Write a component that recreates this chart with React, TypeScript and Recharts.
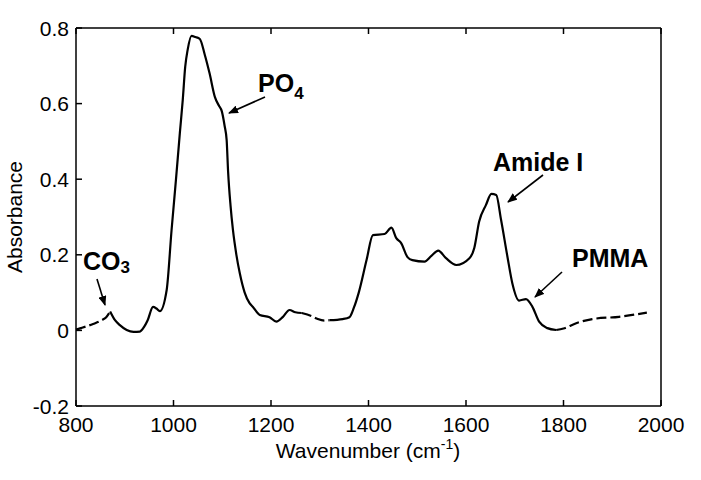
import React from "react";
import { LineChart, Line, XAxis, YAxis } from "recharts";

// wavenumber (cm-1) and absorbance
const wavenumbers = [
    800, 810, 835, 853, 862, 870, 880, 890, 904, 918, 931, 940, 947, 958, 965,
    972, 986, 996, 1005, 1013, 1019, 1024, 1029, 1037, 1045, 1054, 1064, 1074,
    1085, 1093, 1099, 1105, 1109, 1112, 1117, 1122, 1129, 1136, 1146, 1156,
    1163, 1177, 1197, 1211, 1224, 1238, 1250, 1263, 1283, 1296, 1310, 1320,
    1347, 1361, 1370, 1380, 1396, 1409, 1433, 1447, 1457, 1467, 1480, 1490,
    1515, 1529, 1543, 1559, 1580, 1607, 1617, 1627, 1641, 1652, 1662, 1672,
    1685, 1695, 1709, 1723, 1736, 1750, 1767, 1785, 1800, 1826, 1859, 1914,
    1971,
];
const absorbance = [
    0.002, 0.006, 0.017, 0.027, 0.035, 0.05, 0.027, 0.014, 0.001, -0.004,
    -0.003, 0.01, 0.027, 0.062, 0.058, 0.051, 0.107, 0.265, 0.398, 0.522, 0.61,
    0.697, 0.742, 0.779, 0.776, 0.771, 0.73, 0.68, 0.617, 0.595, 0.58, 0.54,
    0.504, 0.42, 0.33, 0.265, 0.2, 0.151, 0.1, 0.072, 0.062, 0.041, 0.035,
    0.023, 0.035, 0.054, 0.048, 0.046, 0.038, 0.03, 0.026, 0.027, 0.03, 0.035,
    0.06, 0.1, 0.186, 0.252, 0.255, 0.272, 0.244, 0.231, 0.194, 0.186, 0.182,
    0.197, 0.211, 0.191, 0.173, 0.191, 0.218, 0.288, 0.332, 0.361, 0.358,
    0.292, 0.195, 0.125, 0.079, 0.083, 0.063, 0.023, 0.006, 0.001, 0.005,
    0.019, 0.03, 0.036, 0.047,
];
// stretches of the trace that are broken up in the original
const dashedRanges = [
    [800, 870],
    [1263, 1320],
    [1785, 1971],
];
const xTicks = [800, 1000, 1200, 1400, 1600, 1800, 2000];
const yTicks = [-0.2, 0, 0.2, 0.4, 0.6, 0.8];

const inRange = (w: number, open: boolean) =>
    dashedRanges.some(([a, b]) => (open ? w > a && w < b : w >= a && w <= b));

const rows = wavenumbers.map((wn, i) => ({
    wn,
    solid: inRange(wn, true) ? null : absorbance[i],
    dash: inRange(wn, false) ? absorbance[i] : null,
}));

const FONT = "'Liberation Sans', Arial, Helvetica, sans-serif";
const TICK = 6;

const BottomTick = (p: any) => (
    <g>
        <line x1={p.x} y1={p.y} x2={p.x} y2={p.y - TICK} stroke="#000" strokeWidth={1.5} />
        <text x={p.x} y={p.y + 26} textAnchor="middle" fontSize={21} fontFamily={FONT} fill="#000">
            {p.payload.value}
        </text>
    </g>
);

const TopTick = (p: any) => (
    <line x1={p.x} y1={p.y} x2={p.x} y2={p.y + TICK} stroke="#000" strokeWidth={1.5} />
);

const LeftTick = (p: any) => {
    const v = p.payload.value;
    return (
        <g>
            <line x1={p.x} y1={p.y} x2={p.x + TICK} y2={p.y} stroke="#000" strokeWidth={1.5} />
            <text x={p.x - 7} y={p.y} dy="0.36em" textAnchor="end" fontSize={21} fontFamily={FONT} fill="#000">
                {v === 0 ? "0" : v.toFixed(1)}
            </text>
        </g>
    );
};

const RightTick = (p: any) => (
    <line x1={p.x} y1={p.y} x2={p.x - TICK} y2={p.y} stroke="#000" strokeWidth={1.5} />
);

const Arrow = ({ x1, y1, x2, y2 }: { x1: number; y1: number; x2: number; y2: number }) => (
    <line x1={x1} y1={y1} x2={x2} y2={y2} stroke="#000" strokeWidth={1.6} markerEnd="url(#head)" />
);

const axisLine = { stroke: "#000", strokeWidth: 1.5 };

export default function App() {
    return (
        <div style={{ position: "absolute", left: 0, top: 0, width: 701, height: 480, background: "#fff" }}>
            <LineChart width={701} height={480} data={rows} margin={{ top: 0, right: 0, bottom: 0, left: 0 }}>
                <XAxis
                    xAxisId="b"
                    dataKey="wn"
                    type="number"
                    domain={[800, 2000]}
                    ticks={xTicks}
                    height={74}
                    tickSize={0}
                    tickMargin={0}
                    tickLine={false}
                    axisLine={axisLine}
                    tick={BottomTick}
                    interval={0}
                />
                <XAxis
                    xAxisId="t"
                    orientation="top"
                    dataKey="wn"
                    type="number"
                    domain={[800, 2000]}
                    ticks={xTicks}
                    height={28}
                    tickSize={0}
                    tickMargin={0}
                    tickLine={false}
                    axisLine={axisLine}
                    tick={TopTick}
                    interval={0}
                />
                <YAxis
                    yAxisId="l"
                    type="number"
                    domain={[-0.2, 0.8]}
                    ticks={yTicks}
                    width={76}
                    tickSize={0}
                    tickMargin={0}
                    tickLine={false}
                    axisLine={axisLine}
                    tick={LeftTick}
                    interval={0}
                />
                <YAxis
                    yAxisId="r"
                    orientation="right"
                    type="number"
                    domain={[-0.2, 0.8]}
                    ticks={yTicks}
                    width={40}
                    tickSize={0}
                    tickMargin={0}
                    tickLine={false}
                    axisLine={axisLine}
                    tick={RightTick}
                    interval={0}
                />
                <Line
                    xAxisId="b"
                    yAxisId="l"
                    type="monotoneX"
                    dataKey="solid"
                    stroke="#000"
                    strokeWidth={2.2}
                    dot={false}
                    activeDot={false}
                    isAnimationActive={false}
                />
                <Line
                    xAxisId="b"
                    yAxisId="l"
                    type="monotoneX"
                    dataKey="dash"
                    stroke="#000"
                    strokeWidth={2.2}
                    strokeDasharray="10 4"
                    dot={false}
                    activeDot={false}
                    isAnimationActive={false}
                />
            </LineChart>
            <svg
                width={701}
                height={480}
                style={{ position: "absolute", left: 0, top: 0, pointerEvents: "none" }}
                fontFamily={FONT}
            >
                <defs>
                    <marker id="head" markerWidth="10" markerHeight="8" refX="9" refY="4" orient="auto" markerUnits="userSpaceOnUse">
                        <path d="M0,0 L10,4 L0,8 z" fill="#000" />
                    </marker>
                </defs>
                <text x={22} y={217} transform="rotate(-90 22 217)" textAnchor="middle" fontSize={21}>
                    Absorbance
                </text>
                <text x={368} y={458} textAnchor="middle" fontSize={21}>
                    Wavenumber (cm<tspan fontSize={14} dy={-9}>-1</tspan>
                    <tspan dy={9}>)</tspan>
                </text>

                <g fontWeight="bold" fontSize={25}>
                    <text x={258} y={92}>
                        PO<tspan fontSize={17} dy={7}>4</tspan>
                    </text>
                    <text x={493} y={171}>Amide I</text>
                    <text x={572} y={267}>PMMA</text>
                    <text x={83} y={270}>
                        CO<tspan fontSize={17} dy={3}>3</tspan>
                    </text>
                </g>
                <Arrow x1={265} y1={97} x2={229} y2={113} />
                <Arrow x1={543} y1={175} x2={508} y2={202} />
                <Arrow x1={562} y1={272} x2={535} y2={297} />
                <Arrow x1={97} y1={279} x2={105} y2={305} />
            </svg>
        </div>
    );
}
